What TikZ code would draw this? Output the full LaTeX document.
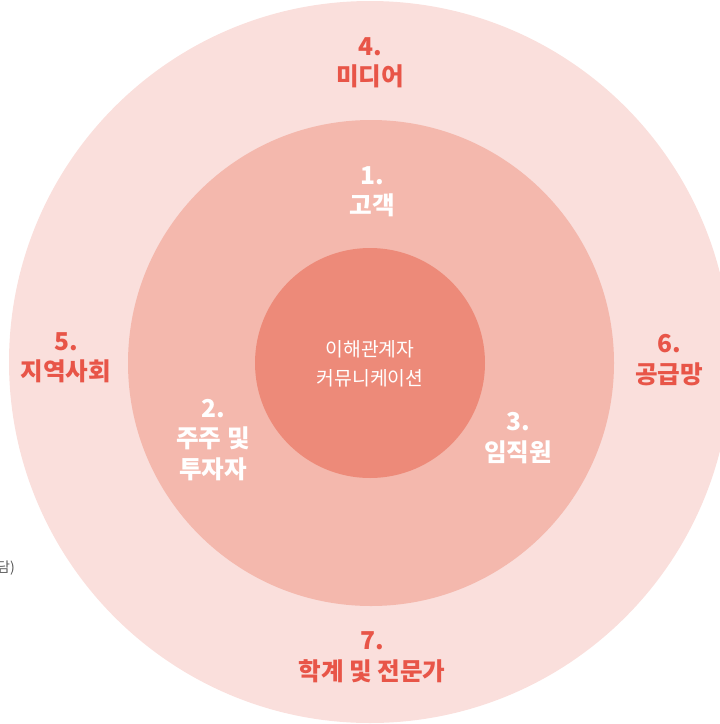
\documentclass[tikz,border=0pt]{standalone}
\usepackage{fontspec}
\newfontfamily\krfont{Noto Sans CJK KR}
\usetikzlibrary{positioning}
\definecolor{ringout}{RGB}{250,223,220}
\definecolor{ringmid}{RGB}{244,184,173}
\definecolor{ringin}{RGB}{237,138,121}
\definecolor{labred}{RGB}{232,85,72}
\definecolor{notegray}{RGB}{90,90,90}

\begin{document}
\begin{tikzpicture}[x=0.03cm,y=-0.03cm,
                    every node/.style={font=\krfont, align=center, inner sep=0pt},
                    outerlab/.style={text=labred, font=\krfont\bfseries\fontsize{21}{26}\selectfont},
                    innerlab/.style={text=white, font=\krfont\bfseries\fontsize{21}{26}\selectfont},
                    corelab/.style={text=white, font=\krfont\fontsize{16.5}{25}\selectfont}]
  \useasboundingbox (0,0) rectangle (719,724);

  % rings
  \fill[ringout] (370,362) circle (361);
  \fill[ringmid] (371,363) circle (243);
  \fill[ringin]  (370,363) circle (115);

  % centre
  \node[corelab] (core) at (370,364) {이해관계자\\커뮤니케이션};

  % inner ring
  \node[innerlab] (cust)  at (372,192) {1.\\고객};
  \node[innerlab] (share) at (213,440) {2.\\주주 및\\투자자};
  \node[innerlab] (staff) at (518,438) {3.\\임직원};

  % outer ring
  \node[outerlab] (media) at (370,63)  {4.\\미디어};
  \node[outerlab] (local) at (66,358)  {5.\\지역사회};
  \node[outerlab] (suppl) at (669,360) {6.\\공급망};
  \node[outerlab] (acad)  at (372,657) {7.\\학계 및 전문가};

  % cut-off note at left edge
  \node[text=notegray, font=\krfont\fontsize{12}{14}\selectfont, anchor=east] (note) at (15,568) {담)};
\end{tikzpicture}
\end{document}
